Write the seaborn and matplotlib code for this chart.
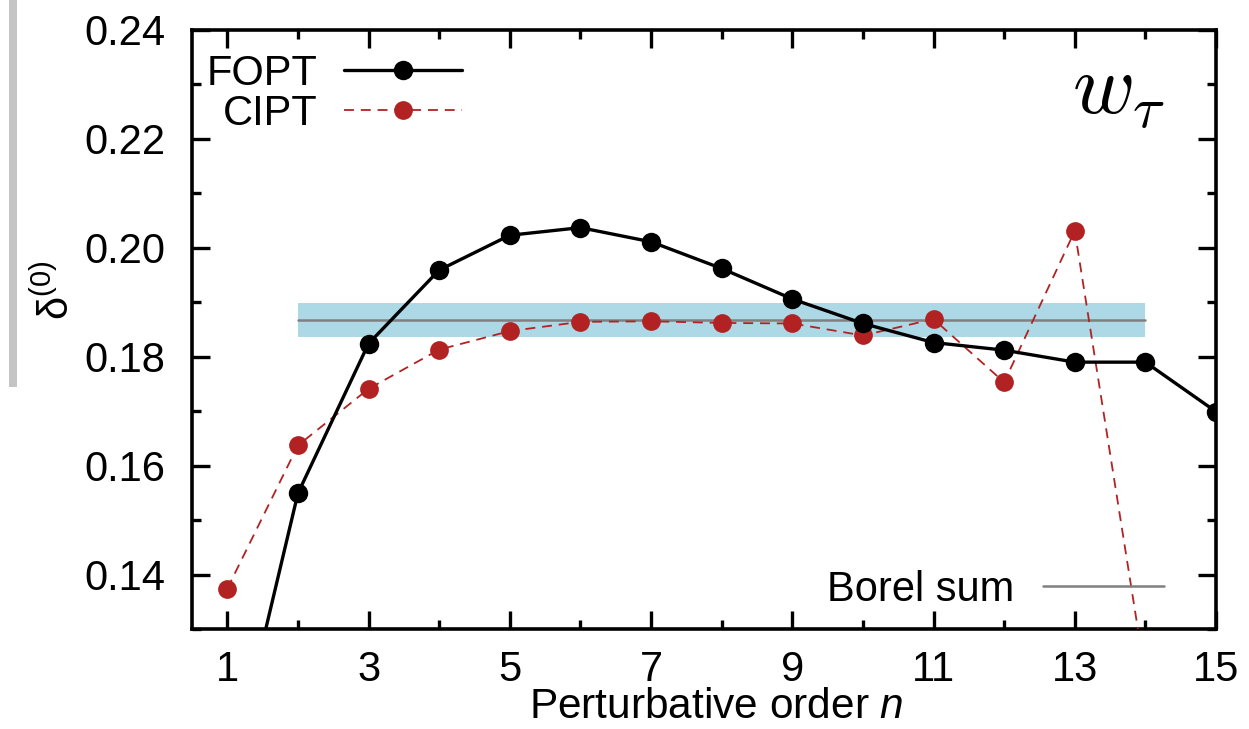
import numpy as np
import pandas as pd
import matplotlib
matplotlib.use("Agg")
import matplotlib.pyplot as plt
from matplotlib.patches import Rectangle
from matplotlib.ticker import MultipleLocator, FormatStrFormatter
import seaborn as sns

# ---- data -------------------------------------------------------------
orders = [1, 2, 3, 4, 5, 6, 7, 8, 9, 10, 11, 12, 13, 14, 15]
fopt = [0.1002, 0.1549, 0.1824, 0.1959, 0.2023, 0.2037, 0.2011, 0.1962,
        0.1906, 0.1861, 0.1826, 0.1812, 0.1790, 0.1790, 0.1699]
cipt_orders = [1, 2, 3, 4, 5, 6, 7, 8, 9, 10, 11, 12, 13, 14]
cipt = [0.1374, 0.1637, 0.1741, 0.1813, 0.1847, 0.1864, 0.1865, 0.1862,
        0.1861, 0.1839, 0.1869, 0.1753, 0.2031, 0.1213]
borel_orders = [2, 14]
borel_sum = 0.1868
borel_low = 0.1837
borel_high = 0.1899

xticks_major = [1, 3, 5, 7, 9, 11, 13, 15]

# ---- style ------------------------------------------------------------
sns.set_theme(style="ticks")
plt.rcParams["font.family"] = ["Liberation Sans", "DejaVu Sans"]
plt.rcParams["mathtext.fontset"] = "custom"
plt.rcParams["mathtext.rm"] = "Liberation Sans"
plt.rcParams["mathtext.it"] = "Liberation Sans:italic"
plt.rcParams["axes.linewidth"] = 2.6
plt.rcParams["text.color"] = "black"
plt.rcParams["axes.labelcolor"] = "black"
plt.rcParams["legend.labelcolor"] = "black"

RED = "#b22222"
BAND = "#add8e6"
GREY = "#808080"
FS = 30

fig = plt.figure(figsize=(12.49, 7.29), dpi=100)
fig.patch.set_facecolor("white")
ax = fig.add_axes([0.1537, 0.1372, 0.8199, 0.8217])
ax.set_facecolor("white")

# Borel sum with its uncertainty band
ax.fill_between(borel_orders, [borel_low] * 2, [borel_high] * 2,
                color=BAND, linewidth=0, zorder=1)
sns.lineplot(x=borel_orders, y=[borel_sum] * 2, color=GREY, linewidth=1.8,
             ax=ax, zorder=2)
borel_line = ax.lines[-1]

# FOPT series
sns.lineplot(x=orders, y=fopt, color="black", linewidth=2.4, marker="o",
             markersize=14, markeredgewidth=0, ax=ax, zorder=4)
fopt_line = ax.lines[-1]

# CIPT series
sns.lineplot(x=cipt_orders, y=cipt, color=RED, linewidth=1.3, marker="o",
             markersize=13.5, markeredgewidth=0, ax=ax, zorder=3)
cipt_line = ax.lines[-1]
cipt_line.set_linestyle((0, (5.5, 3.8)))

# ---- axes -------------------------------------------------------------
ax.set_xlim(0.5, 15)
ax.set_ylim(0.13, 0.24)
ax.set_xticks(xticks_major)
ax.xaxis.set_minor_locator(MultipleLocator(1))
ax.yaxis.set_major_locator(MultipleLocator(0.02))
ax.yaxis.set_minor_locator(MultipleLocator(0.01))
ax.yaxis.set_major_formatter(FormatStrFormatter("%.2f"))
ax.tick_params(which="both", direction="in", top=True, right=True,
               width=2.4, color="black")
ax.tick_params(which="major", length=13, labelsize=FS, labelcolor="black")
ax.tick_params(axis="x", which="major", pad=15)
ax.tick_params(axis="y", which="major", pad=19)
ax.tick_params(which="minor", length=6.5)
for s in ax.spines.values():
    s.set_visible(True)
    s.set_color("black")
    s.set_linewidth(2.6)

ax.set_xlabel("Perturbative order $n$", fontsize=30.5)
ax.xaxis.set_label_coords(0.512, -0.097)
ax.set_ylabel("δ$^{(0)}$", fontsize=30)
ax.yaxis.set_label_coords(-0.112, 0.566)

# ---- legends ----------------------------------------------------------
leg1 = ax.legend([fopt_line, cipt_line], ["FOPT", "CIPT"],
                 loc="upper left", bbox_to_anchor=(0.0146, 0.960),
                 frameon=False, markerfirst=False, numpoints=1,
                 handlelength=2.85, handletextpad=0.62, labelspacing=0.0,
                 borderpad=0, borderaxespad=0, fontsize=FS)
ax.add_artist(leg1)
ax.legend([borel_line], ["Borel sum"], loc="lower right",
          bbox_to_anchor=(0.949, 0.032), frameon=False, markerfirst=False,
          handlelength=2.9, handletextpad=0.7, borderpad=0,
          borderaxespad=0, fontsize=FS)

ax.text(0.859, 0.861, r"$w_\tau$", transform=ax.transAxes, fontsize=61,
        math_fontfamily="cm", ha="left", va="baseline")

# thin grey rule at the left edge of the figure
fig.patches.append(Rectangle((9 / 1249, 1 - 387 / 729), 8 / 1249, 387 / 729,
                             transform=fig.transFigure, color="#c4c4c4",
                             linewidth=0))

fig.savefig("out.png", dpi=100, facecolor="white")
